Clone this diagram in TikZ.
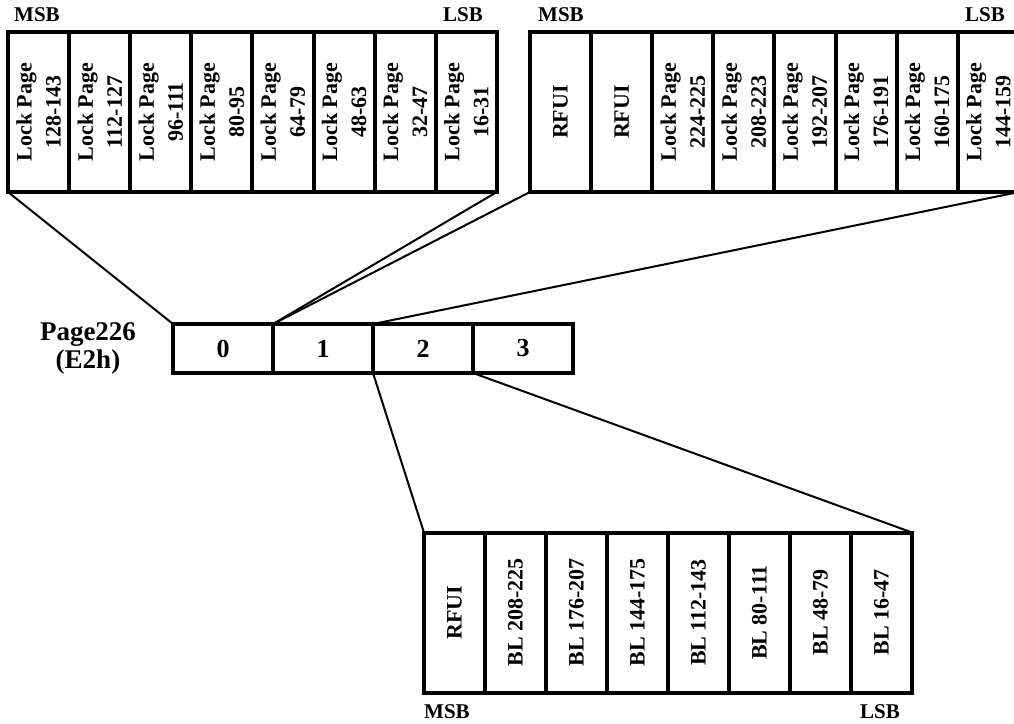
\documentclass[tikz,border=0pt]{standalone}
\usepackage{fontspec}
\setmainfont{Liberation Serif}
\usetikzlibrary{positioning}

\begin{document}
\begin{tikzpicture}[
    x=0.5pt, y=-0.5pt,
    every node/.style={align=center},
    lockcell/.style={rectangle, draw, fill=white, line width=2pt, rotate=90, minimum width=80pt, minimum height=30.55pt, inner sep=0pt, outer sep=0pt, font=\fontsize{11}{14.5}\selectfont\bfseries},
    bytecell/.style={rectangle, draw, fill=white, line width=2pt, minimum width=50pt, minimum height=24.5pt, inner sep=0pt, outer sep=0pt, font=\fontsize{13}{15}\selectfont\bfseries},
    bitlabel/.style={font=\fontsize{10.5}{12}\selectfont\bfseries},
    link/.style={line width=1pt}
]
\useasboundingbox (0,0) rectangle (1014,724);

% Page226 bytes
\node[font=\fontsize{13.5}{14}\selectfont\bfseries] (pagename) at (88,348) {Page226\\(E2h)};
\foreach \i in {0,...,3} {
    \node[bytecell] (b\i) at ({173+100*\i+50},348.5) {\i};
}

% byte 0 : lock pages 16-143
\foreach \t [count=\i] in {{Lock Page\\128-143}, {Lock Page\\112-127}, {Lock Page\\96-111}, {Lock Page\\80-95}, {Lock Page\\64-79}, {Lock Page\\48-63}, {Lock Page\\32-47}, {Lock Page\\16-31}} {
    \node[lockcell] (lo\i) at ({8+61.1*(\i-0.5)},112) {\t};
}
\node[bitlabel] (lomsb) at (37,15) {MSB};
\node[bitlabel] (lolsb) at (463,15) {LSB};

% byte 1 : lock pages 144-225
\foreach \t [count=\i] in {RFUI, RFUI, {Lock Page\\224-225}, {Lock Page\\208-223}, {Lock Page\\192-207}, {Lock Page\\176-191}, {Lock Page\\160-175}, {Lock Page\\144-159}} {
    \node[lockcell] (hi\i) at ({530+61.1*(\i-0.5)},112) {\t};
}
\node[bitlabel] (himsb) at (561,15) {MSB};
\node[bitlabel] (hilsb) at (985,15) {LSB};

% byte 2 : block lock bits
\foreach \t [count=\i] in {RFUI, BL 208-225, BL 176-207, BL 144-175, BL 112-143, BL 80-111, BL 48-79, BL 16-47} {
    \node[lockcell] (bl\i) at ({424+61*(\i-0.5)},612.5) {\t};
}
\node[bitlabel] (blmsb) at (447,712) {MSB};
\node[bitlabel] (bllsb) at (880,712) {LSB};

% fan-out lines
\draw[link] (lo1.north west) -- (b0.north west);
\draw[link] (lo8.south west) -- (b1.north west);
\draw[link] (hi1.north west) -- (b1.north west);
\draw[link] (hi8.south west) -- (b2.north west);
\draw[link] (b2.south west) -- (bl1.north east);
\draw[link] (b3.south west) -- (bl8.south east);

\end{tikzpicture}
\end{document}
